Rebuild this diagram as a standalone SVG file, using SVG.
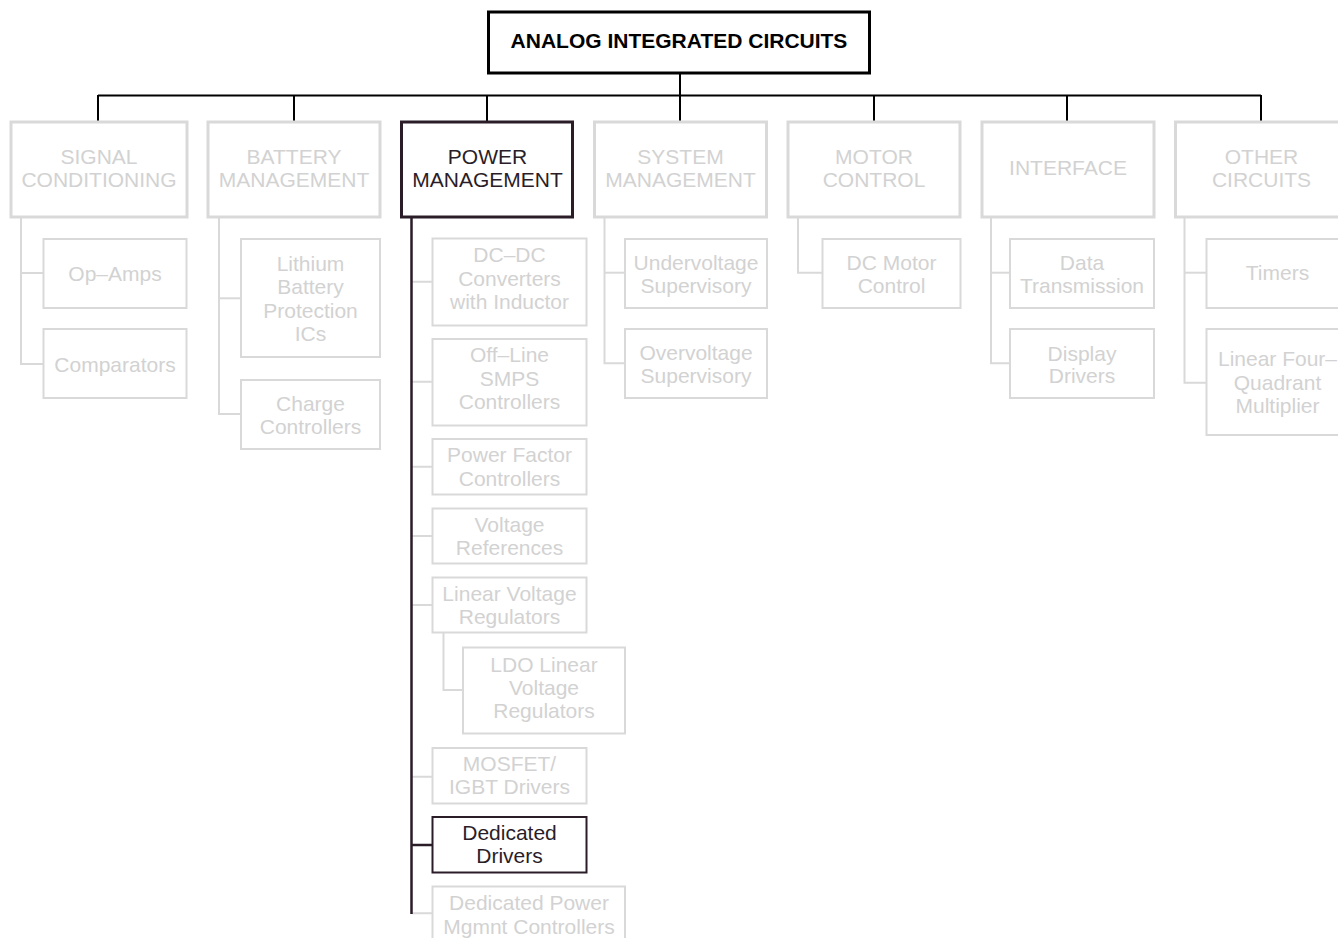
<svg xmlns="http://www.w3.org/2000/svg" width="1338" height="938" viewBox="0 0 1338 938">
<style>
text{font-family:"Liberation Sans",Arial,Helvetica,sans-serif;font-size:21px;text-anchor:middle}
.top rect{fill:#fff;stroke:#000;stroke-width:3}
.top text{font-weight:bold;fill:#000}
.p rect{fill:#fff;stroke:#d9d9d9;stroke-width:3}
.c rect{fill:#fff;stroke:#d9d9d9;stroke-width:2}
.g text{fill:#d2d2d2}
.d rect{stroke:#2b1d28}
.d text{fill:#2b1d28}
.k{fill:none;stroke:#000;stroke-width:2}
.l{fill:none;stroke:#d9d9d9;stroke-width:2}
.m{fill:none;stroke:#2b1d28;stroke-width:2.5}
</style>
<rect width="1338" height="938" fill="#fff"/>
<g id="connectors">
<path class="k" d="M680 74V121M98 95.5H1261M98 95V121M294 95V121M487 95V121M874 95V121M1067 95V121M1261 95V121"/>
<polyline class="l" points="21,218 21,364 43,364"/>
<path class="l" d="M21 273H43"/>
<polyline class="l" points="219,218 219,414 240,414"/>
<path class="l" d="M219 298.3H240"/>
<path class="l" d="M412 281.7H432M412 381.7H432M412 466.7H432M412 536H432M412 605H432M412 776.7H432M412 913.3H432"/>
<polyline class="l" points="443.5,633 443.5,690 462,690"/>
<path class="m" d="M411.5 218V914M411.5 845H432"/>
<polyline class="l" points="604.5,218 604.5,363.3 624,363.3"/>
<path class="l" d="M604.5 272.7H624"/>
<polyline class="l" points="798,218 798,272.7 822,272.7"/>
<polyline class="l" points="991,218 991,363.3 1009,363.3"/>
<path class="l" d="M991 272.7H1009"/>
<polyline class="l" points="1184.5,218 1184.5,382.7 1206,382.7"/>
<path class="l" d="M1184.5 272.7H1206"/>
</g>
<g id="analog" class="top"><rect x="488.5" y="12" width="381" height="61"/><text x="679" y="47.5">ANALOG INTEGRATED CIRCUITS</text></g>
<g id="signal" class="p g"><rect x="11" y="122" width="176" height="95"/><text x="99" y="164">SIGNAL</text><text x="99" y="187">CONDITIONING</text></g>
<g id="battery" class="p g"><rect x="208" y="122" width="172" height="95"/><text x="294" y="164">BATTERY</text><text x="294" y="187">MANAGEMENT</text></g>
<g id="power" class="p d"><rect x="401.5" y="122" width="171" height="95"/><text x="487.5" y="164">POWER</text><text x="487.5" y="187">MANAGEMENT</text></g>
<g id="system" class="p g"><rect x="594.5" y="122" width="172" height="95"/><text x="680.5" y="164">SYSTEM</text><text x="680.5" y="187">MANAGEMENT</text></g>
<g id="motor" class="p g"><rect x="788" y="122" width="172" height="95"/><text x="874" y="164">MOTOR</text><text x="874" y="187">CONTROL</text></g>
<g id="interface" class="p g"><rect x="982" y="122" width="172" height="95"/><text x="1068" y="175">INTERFACE</text></g>
<g id="other" class="p g"><rect x="1175.5" y="122" width="172" height="95"/><text x="1261.5" y="164">OTHER</text><text x="1261.5" y="187">CIRCUITS</text></g>
<g id="opamps" class="c g"><rect x="43.5" y="239" width="143" height="69"/><text x="115" y="281">Op–Amps</text></g>
<g id="comparators" class="c g"><rect x="43.5" y="329" width="143" height="69"/><text x="115" y="371.5">Comparators</text></g>
<g id="lithium" class="c g"><rect x="241" y="239" width="139" height="118"/><text x="310.5" y="271">Lithium</text><text x="310.5" y="294.3">Battery</text><text x="310.5" y="318">Protection</text><text x="310.5" y="341">ICs</text></g>
<g id="charge" class="c g"><rect x="241" y="380" width="139" height="69"/><text x="310.5" y="411">Charge</text><text x="310.5" y="434.3">Controllers</text></g>
<g id="dcdc" class="c g"><rect x="432.5" y="238.5" width="154" height="87"/><text x="509.5" y="262.3">DC–DC</text><text x="509.5" y="285.5">Converters</text><text x="509.5" y="308.5">with Inductor</text></g>
<g id="offline" class="c g"><rect x="432.5" y="339" width="154" height="86.5"/><text x="509.5" y="362.3">Off–Line</text><text x="509.5" y="386">SMPS</text><text x="509.5" y="409">Controllers</text></g>
<g id="pfc" class="c g"><rect x="432.5" y="439" width="154" height="55.5"/><text x="509.5" y="462.3">Power Factor</text><text x="509.5" y="485.5">Controllers</text></g>
<g id="vref" class="c g"><rect x="432.5" y="508.5" width="154" height="55"/><text x="509.5" y="531.5">Voltage</text><text x="509.5" y="555">References</text></g>
<g id="linreg" class="c g"><rect x="432.5" y="577.5" width="154" height="55"/><text x="509.5" y="600.7">Linear Voltage</text><text x="509.5" y="624">Regulators</text></g>
<g id="ldo" class="c g"><rect x="463" y="647.5" width="162" height="86"/><text x="544" y="671.7">LDO Linear</text><text x="544" y="695">Voltage</text><text x="544" y="718.3">Regulators</text></g>
<g id="mosfet" class="c g"><rect x="432.5" y="748" width="154" height="55.5"/><text x="509.5" y="770.5">MOSFET/</text><text x="509.5" y="794">IGBT Drivers</text></g>
<g id="dedicated" class="c d"><rect x="432.5" y="817" width="154" height="55.5"/><text x="509.5" y="839.5">Dedicated</text><text x="509.5" y="863">Drivers</text></g>
<g id="dedpower" class="c g"><rect x="432.5" y="886.5" width="192.5" height="80"/><text x="529" y="910">Dedicated Power</text><text x="529" y="933.5">Mgmnt Controllers</text></g>
<g id="under" class="c g"><rect x="625" y="239" width="142" height="69"/><text x="696" y="269.5">Undervoltage</text><text x="696" y="292.5">Supervisory</text></g>
<g id="over" class="c g"><rect x="625" y="329" width="142" height="69"/><text x="696" y="359.5">Overvoltage</text><text x="696" y="382.5">Supervisory</text></g>
<g id="dcmotor" class="c g"><rect x="822.5" y="239" width="138" height="69"/><text x="891.5" y="270">DC Motor</text><text x="891.5" y="292.7">Control</text></g>
<g id="data" class="c g"><rect x="1010" y="239" width="144" height="69"/><text x="1082" y="270">Data</text><text x="1082" y="292.7">Transmission</text></g>
<g id="display" class="c g"><rect x="1010" y="329" width="144" height="69"/><text x="1082" y="360.7">Display</text><text x="1082" y="383.3">Drivers</text></g>
<g id="timers" class="c g"><rect x="1206.5" y="239" width="142" height="69"/><text x="1277.5" y="280">Timers</text></g>
<g id="multiplier" class="c g"><rect x="1206.5" y="329" width="142" height="106"/><text x="1277.5" y="366">Linear Four–</text><text x="1277.5" y="389.5">Quadrant</text><text x="1277.5" y="413">Multiplier</text></g>
</svg>
